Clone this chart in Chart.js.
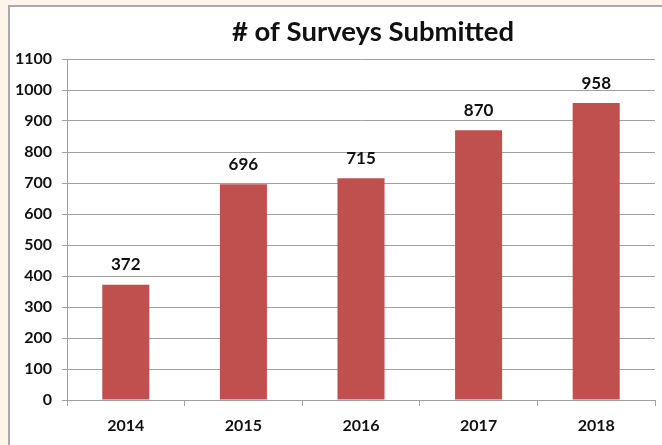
<!DOCTYPE html>
<html>
<head>
<meta charset="utf-8">
<script src="https://cdn.jsdelivr.net/npm/chart.js@4/dist/chart.umd.min.js"></script>
<style>
  html, body { margin: 0; padding: 0; background: #fdf5ea; width: 662px; height: 445px; overflow: hidden; }
  #frame {
    position: absolute; left: 8px; top: 5px;
    width: 652px; height: 438px;
    background: #ffffff;
    border-left: 2px solid #a9a9a9;
    border-top: 2px solid #a9a9a9;
  }
  canvas { display: block; }
</style>
</head>
<body>
<div id="frame"><canvas id="chart" width="652" height="438"></canvas></div>
<script>
const years = ['2014', '2015', '2016', '2017', '2018'];
const surveys = [372, 696, 715, 870, 958];
const yTicks = [0, 100, 200, 300, 400, 500, 600, 700, 800, 900, 1000, 1100];
const chartTitle = '# of Surveys Submitted';

const FONT = 'Lato, "Open Sans", sans-serif';

// Heading, set a little right of the plot's middle.
const heading = {
  id: 'heading',
  afterDraw(chart) {
    const ctx = chart.ctx;
    const area = chart.chartArea;
    ctx.save();
    ctx.font = 'bold 27.5px ' + FONT;
    ctx.fillStyle = '#111111';
    ctx.textAlign = 'center';
    ctx.textBaseline = 'middle';
    ctx.fillText(chartTitle, (area.left + area.right) / 2 + 12, 25);
    ctx.restore();
  }
};

// Writes each bar's value just above it.
const valueLabels = {
  id: 'valueLabels',
  afterDatasetsDraw(chart) {
    const ctx = chart.ctx;
    const meta = chart.getDatasetMeta(0);
    ctx.save();
    ctx.font = 'bold 17px ' + FONT;
    ctx.fillStyle = '#111111';
    ctx.textAlign = 'center';
    ctx.textBaseline = 'middle';
    meta.data.forEach((bar, i) => {
      ctx.fillText(String(surveys[i]), bar.x, bar.y - 20);
    });
    ctx.restore();
  }
};

new Chart(document.getElementById('chart'), {
  type: 'bar',
  data: {
    labels: years,
    datasets: [{
      data: surveys,
      backgroundColor: '#c0504d',
      borderWidth: 0,
      barPercentage: 0.4,
      categoryPercentage: 1.0
    }]
  },
  options: {
    responsive: false,
    animation: false,
    layout: { padding: { left: 0, right: 7, top: 52, bottom: 10 } },
    plugins: {
      legend: { display: false },
      tooltip: { enabled: false },
      title: { display: false }
    },
    scales: {
      x: {
        grid: {
          display: true,
          drawOnChartArea: false,
          drawTicks: true,
          tickLength: 6,
          color: '#a0a0a0',
          offset: true
        },
        border: { display: true, color: '#a0a0a0', width: 1 },
        ticks: {
          color: '#111111',
          font: { family: FONT, size: 16, weight: 'bold' },
          padding: 10
        },
        afterFit(scale) { scale.height = 35; }
      },
      y: {
        min: 0,
        max: 1100,
        afterBuildTicks(scale) { scale.ticks = yTicks.map(v => ({ value: v })); },
        grid: {
          color: '#a0a0a0',
          lineWidth: 1,
          tickLength: 5
        },
        border: { display: true, color: '#a0a0a0', width: 1 },
        ticks: {
          color: '#111111',
          font: { family: FONT, size: 16, weight: 'bold' },
          padding: 10,
          callback: (v) => String(v)
        },
        afterFit(scale) { scale.width = 57; }
      }
    }
  },
  plugins: [valueLabels, heading]
});
</script>
</body>
</html>
